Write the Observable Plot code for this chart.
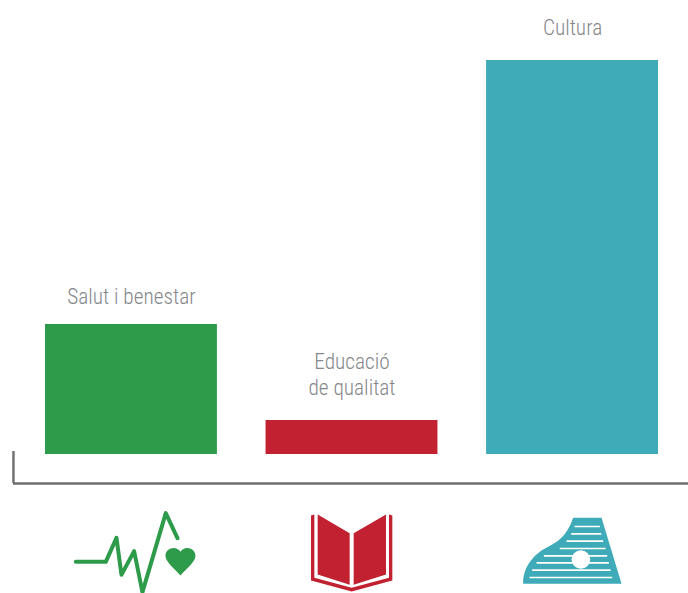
<!DOCTYPE html>
<html>
<head>
<meta charset="utf-8">
<style>
html,body{margin:0;padding:0;background:#fff;overflow:hidden}
svg{display:block}
</style>
<script src="https://cdn.jsdelivr.net/npm/d3@7"></script>
<script src="https://cdn.jsdelivr.net/npm/@observablehq/plot@0.6"></script>
</head>
<body>
<div id="chart"></div>
<script>
const categories = ["Salut i benestar", "Educació\nde qualitat", "Cultura"];
const values = [130, 34, 394];
const colors = ["#2e9b4a", "#c12131", "#3fabb9"];

const axisLevel = -29;
const stubTop = 3;

const GREEN = colors[0], RED = colors[1], TEAL = colors[2];
const heartIcon = `<svg xmlns="http://www.w3.org/2000/svg" viewBox="0 0 540 309" width="180" height="103"><path d="M103 214H193L225 142L240 253L278 182L303 305L373 68L408 143" fill="none" stroke="${GREEN}" stroke-width="12" stroke-linecap="round" stroke-linejoin="round"/><path d="M417 255C400 235 372 215 372 196C372 172 405 164 417 184C429 164 462 172 462 196C462 215 434 235 417 255Z" fill="${GREEN}"/></svg>`;
const bookIcon = `<svg xmlns="http://www.w3.org/2000/svg" viewBox="6 0 420 309" width="140" height="103"><path d="M113 72L209 128V283L113 252ZM318 72L221 128V283L318 252Z" fill="${RED}"/><path d="M93 75L103 72V262L215 292L327 262V72L337 75V270L215 303L93 270Z" fill="${RED}"/></svg>`;
const lines = [[78,222,298],[100,212,302],[122,198,308],[144,178,315],[166,130,320],[187,108,325],[209,95,330],[231,87,335]];
const harpIcon = `<svg xmlns="http://www.w3.org/2000/svg" viewBox="6 0 420 279" width="140" height="93"><path d="M218 52H303L363 250H68C66 205 95 160 150 135C185 118 205 90 218 52Z" fill="${TEAL}"/>${lines.map(([y,a,b])=>`<path d="M${a} ${y}H${b}" stroke="#fff" stroke-width="5"/>`).join("")}<circle cx="241" cy="177" r="28" fill="#fff"/></svg>`;
const uri = s => "data:image/svg+xml;charset=utf-8," + encodeURIComponent(s);
const icons = [
  {c: categories[0], src: uri(heartIcon), w: 180, h: 103, lvl: -87.5},
  {c: categories[1], src: uri(bookIcon), w: 140, h: 103, lvl: -87.5},
  {c: categories[2], src: uri(harpIcon), w: 140, h: 93, lvl: -92.5}
];

const data = categories.map((c, i) => ({c, v: values[i], color: colors[i]}));
const font = {fontFamily: "Roboto, sans-serif", fontWeight: 300, fontSize: 21.3, fill: "#85878a", textAnchor: "middle", lineAnchor: "bottom", lineHeight: 1.22};

const chart = Plot.plot({
  width: 688, height: 593,
  marginTop: 0, marginRight: 0, marginBottom: 0, marginLeft: 13,
  style: {background: "#fff", fontStretch: "condensed"},
  x: {type: "band", domain: categories, range: [45, 658], paddingInner: 0.2205, paddingOuter: 0, round: false, axis: null},
  y: {domain: [0, 394], range: [454, 60], axis: null},
  marks: [
    Plot.barY(data, {x: "c", y: "v", fill: "color"}),
    Plot.ruleY([axisLevel], {stroke: "#6d6e71", strokeWidth: 2.4}),
    Plot.ruleX([categories[0]], {y1: axisLevel, y2: stubTop, dx: -118, stroke: "#6d6e71", strokeWidth: 2.4}),
    Plot.text(data.slice(0, 1), {x: "c", y: "v", text: "c", dy: -21, ...font}),
    Plot.text(data.slice(1), {x: "c", y: "v", text: "c", dy: -26, ...font}),
    Plot.image(icons, {x: "c", y: "lvl", src: "src", width: "w", height: "h"})
  ]
});
document.getElementById("chart").appendChild(chart);
</script>
</body>
</html>
